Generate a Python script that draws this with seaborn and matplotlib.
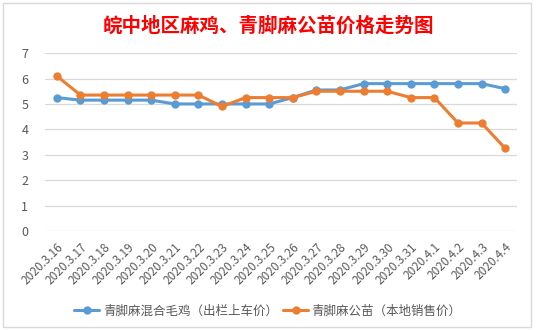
import matplotlib
matplotlib.use("Agg")
import matplotlib.pyplot as plt
import seaborn as sns
import pandas as pd
from matplotlib.patches import Rectangle

dates = ["2020.3.16", "2020.3.17", "2020.3.18", "2020.3.19", "2020.3.20",
         "2020.3.21", "2020.3.22", "2020.3.23", "2020.3.24", "2020.3.25",
         "2020.3.26", "2020.3.27", "2020.3.28", "2020.3.29", "2020.3.30",
         "2020.3.31", "2020.4.1", "2020.4.2", "2020.4.3", "2020.4.4"]
mixed_chicken = [5.25, 5.15, 5.15, 5.15, 5.15, 5.0, 5.0, 5.0, 5.0, 5.0,
                 5.25, 5.55, 5.55, 5.8, 5.8, 5.8, 5.8, 5.8, 5.8, 5.6]
male_chick = [6.1, 5.35, 5.35, 5.35, 5.35, 5.35, 5.35, 4.9, 5.25, 5.25,
              5.25, 5.5, 5.5, 5.5, 5.5, 5.25, 5.25, 4.25, 4.25, 3.25]
series_names = ["青脚麻混合毛鸡（出栏上车价）", "青脚麻公苗（本地销售价）"]
yticks = [0, 1, 2, 3, 4, 5, 6, 7]
title = "皖中地区麻鸡、青脚麻公苗价格走势图"

sns.set_theme(style="white")
plt.rcParams['font.family'] = ['Noto Sans CJK SC', 'DejaVu Sans']

df = pd.DataFrame({
    "date": dates * 2,
    "price": mixed_chicken + male_chick,
    "series": [series_names[0]] * len(dates) + [series_names[1]] * len(dates),
})

fig = plt.figure(figsize=(5.36, 3.30), dpi=100)
ax = fig.add_axes([0.084, 0.30, 0.8806, 0.539])

sns.lineplot(data=df, x="date", y="price", hue="series", sort=False,
             palette=["#5B9BD5", "#ED7D31"], marker="o", markersize=6,
             markeredgewidth=0, linewidth=2.2, ax=ax, legend=True)

ax.set_xlim(-0.5, len(dates) - 0.5)
ax.set_ylim(0, 7)
ax.set_yticks(yticks)
ax.yaxis.grid(True, color="#D9D9D9", linewidth=0.9)
ax.xaxis.grid(False)
for s in ax.spines.values():
    s.set_visible(False)
ax.set_xlabel("")
ax.set_ylabel("")
ax.tick_params(axis="y", labelsize=9, colors="#595959", length=0, pad=12)
ax.tick_params(axis="x", labelsize=8.5, colors="#595959", length=0, pad=7)
for lab in ax.get_xticklabels():
    lab.set_rotation(45)
    lab.set_ha("right")
    lab.set_rotation_mode("anchor")

handles, labels = ax.get_legend_handles_labels()
ax.get_legend().remove()
fig.legend(handles, labels, loc="center", bbox_to_anchor=(0.5, 0.058), ncol=2,
           frameon=False, fontsize=9, handlelength=2.0, columnspacing=0.4,
           handletextpad=0.3, labelcolor="#595959")

fig.text(0.5, 0.92, title, ha="center", va="center", color="#FF0000",
         fontsize=14, fontweight="bold")

fig.patches.append(Rectangle((0.006, 0.01), 0.985, 0.98, transform=fig.transFigure,
                             fill=False, edgecolor="#D9D9D9", linewidth=1))

fig.savefig("out.png", dpi=100)
